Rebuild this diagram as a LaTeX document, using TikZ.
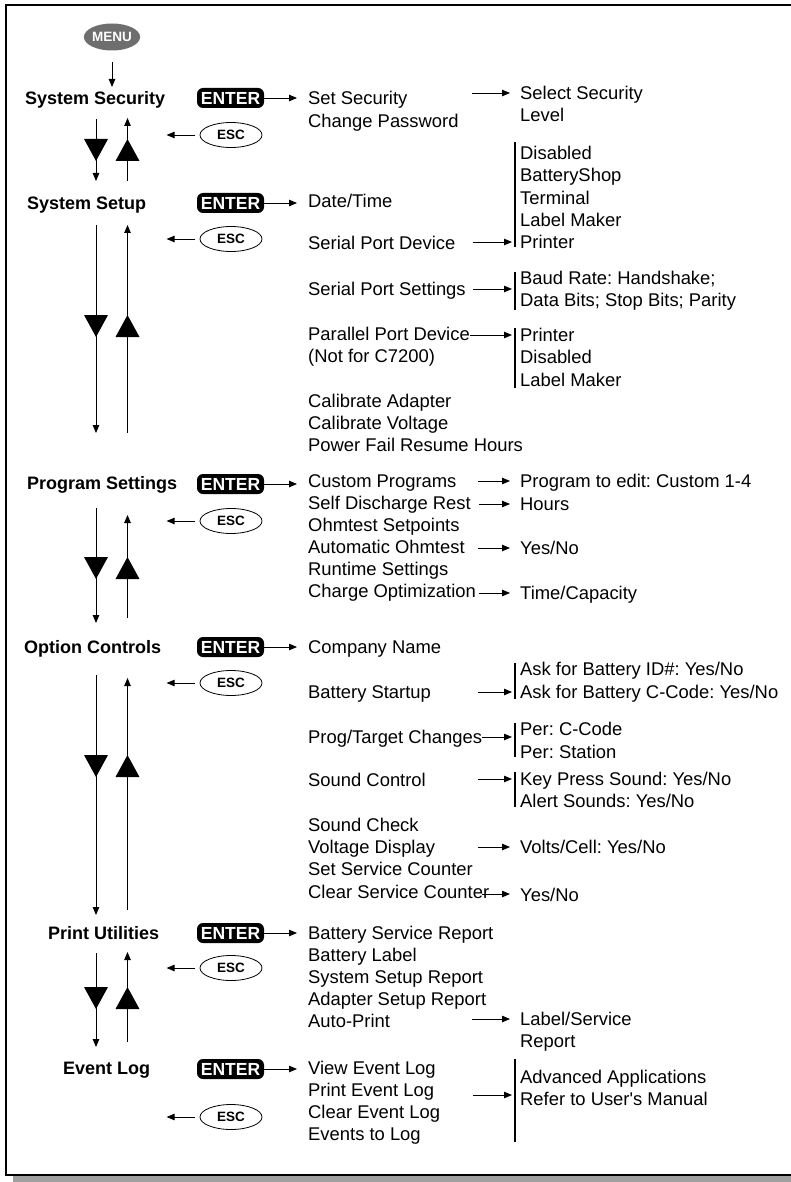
\documentclass[tikz,border=0pt]{standalone}
\usepackage{fontspec}
\setmainfont{Liberation Sans}
\newfontfamily\nolig{Liberation Sans}
\usetikzlibrary{arrows.meta,shapes.geometric}
\definecolor{menugray}{HTML}{6E6E6E}
\definecolor{shadowgray}{HTML}{A0A0A0}
\frenchspacing
\newcommand\navpair[6]{%
  \coordinate (#1dt) at (96,#2); \coordinate (#1db) at (96,#3);
  \coordinate (#1ub) at (127.5,#4); \coordinate (#1ut) at (127.5,#5);
  \draw[arr] (#1dt) -- (#1db);
  \draw[arr] (#1ub) -- (#1ut);
  \fill (84,#6) -- (108,#6) -- (96,#6+22) -- cycle;
  \fill (115.5,#6+22) -- (139.5,#6+22) -- (127.5,#6) -- cycle;
}
\begin{document}
\begin{tikzpicture}[x=1pt,y=-1pt,
  arr/.style={-{Triangle[length=8pt,width=6.5pt]},line width=0.8pt},
  txt/.style={anchor=west,inner sep=0pt,text height=13.2pt,text depth=0pt,font=\fontsize{18.4}{22}\selectfont},
  lbl/.style={anchor=west,inner sep=0pt,text height=12.9pt,text depth=0pt,font=\bfseries\fontsize{18}{22}\selectfont},
  enterbtn/.style={fill=black,rounded corners=6pt,minimum width=67pt,minimum height=20pt,inner sep=0pt,text=white,font=\bfseries\fontsize{17.5}{17.5}\selectfont},
  escbtn/.style={draw,ellipse,line width=0.8pt,minimum width=62pt,minimum height=25pt,inner sep=0pt,font=\bfseries\fontsize{13.5}{13.5}\selectfont},
  menubtn/.style={ellipse,fill=menugray,minimum width=56pt,minimum height=27pt,inner sep=0pt,text=white,font=\bfseries\fontsize{13.5}{13.5}\selectfont},
  bar/.style={line width=1.1pt}
]
\useasboundingbox (0,0) rectangle (790,1182);
% frame and shadow
\fill[shadowgray] (13,1176) rectangle (800,1182);
\draw[line width=2pt] (6,5) rectangle (800,1175);

% column coordinates
\coordinate (tipcol) at (297,0);
\coordinate (rcol) at (510,0);
\coordinate (bcol) at (512,0);

% MENU
\node[menubtn] (menu) at (112,37) {MENU};
\coordinate (menus) at (112,62);
\coordinate (menue) at (112,87);
\draw[arr] (menus) -- (menue);

% section labels
\node[lbl] (sec1) at (25,98) {System Security};
\node[lbl] (sec2) at (27,203) {System Setup};
\node[lbl] (sec3) at (27,483) {Program Settings};
\node[lbl] (sec4) at (24,647) {Option Controls};
\node[lbl] (sec5) at (48,933) {Print Utilities};
\node[lbl] (sec6) at (63,1068) {Event Log};

% ENTER buttons
\node[enterbtn] (ent1) at (230.5,98) {ENTER};
\node[enterbtn] (ent2) at (230.5,203) {ENTER};
\node[enterbtn] (ent3) at (230.5,484) {ENTER};
\node[enterbtn] (ent4) at (230.5,647) {ENTER};
\node[enterbtn] (ent5) at (230.5,933) {ENTER};
\node[enterbtn] (ent6) at (230.5,1069) {ENTER};

% ESC buttons
\node[escbtn] (esc1) at (231,135) {ESC};
\node[escbtn] (esc2) at (231,239) {ESC};
\node[escbtn] (esc3) at (231,521) {ESC};
\node[escbtn] (esc4) at (231,683) {ESC};
\node[escbtn] (esc5) at (231,968) {ESC};
\node[escbtn] (esc6) at (231,1117) {ESC};
\foreach \e in {esc1,esc2,esc3,esc4,esc5,esc6}
  \draw[arr] ([xshift=-5pt]\e.west) -- ([xshift=-33pt]\e.west);

% ENTER arrows
\foreach \e in {ent1,ent2,ent3,ent4,ent5,ent6}
  \draw[arr] (\e.east) -- (\e.east -| tipcol);

% navigation arrows
\navpair{n1}{119}{181}{181}{118}{139}
\navpair{n2}{225}{433}{433}{225}{315}
\navpair{n3}{508}{623}{618}{515}{557}
\navpair{n4}{675}{915}{910}{678}{755}
\navpair{n5}{953}{1047}{1042}{952}{987}

% middle column
\node[txt] (m1a) at (308,98) {Set Security};
\node[txt] (m1b) at (308,121) {Change Password};
\node[txt] (m2a) at (308,201) {Date/Time};
\node[txt] (m2b) at (308,243) {Serial Port Device};
\node[txt] (m2c) at (308,289) {Serial Port Settings};
\node[txt] (m2d) at (308,334) {Parallel Port Device};
\node[txt] (m2e) at (308,356) {(Not for C7200)};
\node[txt] (m2f) at (308,401) {Calibrate Adapter};
\node[txt] (m2g) at (308,423) {Calibrate Voltage};
\node[txt] (m2h) at (308,445) {Power Fail Resume Hours};
\node[txt] (m3a) at (308,481) {Custom Programs};
\node[txt] (m3b) at (308,503) {Self Discharge Rest};
\node[txt] (m3c) at (308,525) {Ohmtest Setpoints};
\node[txt] (m3d) at (308,547) {Automatic Ohmtest};
\node[txt] (m3e) at (308,569) {Runtime Settings};
\node[txt] (m3f) at (308,591) {Charge Optimization};
\node[txt] (m4a) at (308,647) {Company Name};
\node[txt] (m4b) at (308,692) {Battery Startup};
\node[txt] (m4c) at (308,737) {Prog/Target Changes};
\node[txt] (m4d) at (308,780) {Sound Control};
\node[txt] (m4e) at (308,825) {Sound Check};
\node[txt] (m4f) at (308,847) {Voltage Display};
\node[txt] (m4g) at (308,869) {Set Service Counter};
\node[txt] (m4h) at (308,892) {Clear Service Counter};
\node[txt] (m5a) at (308,933) {Battery Service Report};
\node[txt] (m5b) at (308,955) {Battery Label};
\node[txt] (m5c) at (308,977) {System Setup Report};
\node[txt] (m5d) at (308,999) {Adapter Setup Report};
\node[txt] (m5e) at (308,1021) {Auto-Print};
\node[txt] (m6a) at (308,1068) {View Event Log};
\node[txt] (m6b) at (308,1090) {Print Event Log};
\node[txt] (m6c) at (308,1112) {Clear Event Log};
\node[txt] (m6d) at (308,1134) {Events to Log};

% right column
\node[txt] (r1a) at (520,93) {Select Security};
\node[txt] (r1b) at (520,115) {Level};
\node[txt] (r2a) at (520,153) {Disabled};
\node[txt] (r2b) at (520,175) {BatteryShop};
\node[txt] (r2c) at (520,198) {Terminal};
\node[txt] (r2d) at (520,220) {Label Maker};
\node[txt] (r2e) at (520,242) {Printer};
\node[txt] (r3a) at (520,278) {Baud Rate: Handshake;};
\node[txt] (r3b) at (520,300) {Data Bits; Stop Bits; Parity};
\node[txt] (r4a) at (520,335) {Printer};
\node[txt] (r4b) at (520,357) {Disabled};
\node[txt] (r4c) at (520,380) {Label Maker};
\node[txt] (r5a) at (520,481) {Program to edit: Custom 1-4};
\node[txt] (r5b) at (520,504) {Hours};
\node[txt] (r5c) at (520,548) {Yes/No};
\node[txt] (r5d) at (520,593) {Time/Capacity};
\node[txt] (r6a) at (520,669) {Ask for Battery ID\#: Yes/No};
\node[txt] (r6b) at (520,692) {Ask for Battery C-Code: Yes/No};
\node[txt] (r7a) at (520,729) {Per: C-Code};
\node[txt] (r7b) at (520,752) {Per: Station};
\node[txt] (r8a) at (520,779) {Key Press Sound: Yes/No};
\node[txt] (r8b) at (520,801) {Alert Sounds: Yes/No};
\node[txt] (r9) at (520,847) {Volts/Cell: Yes/No};
\node[txt] (r10) at (520,895) {Yes/No};
\node[txt] (r11a) at (520,1019) {Label/Service};
\node[txt] (r11b) at (520,1041) {Report};
\node[txt] (r12a) at (520,1077) {Advanced Applications};
\node[txt] (r12b) at (520,1099) {Refer to User{\nolig '}s Manual};

% bars
\draw[bar] (515,142) -- (515,247);
\draw[bar] (515,272) -- (515,310);
\draw[bar] (515,328) -- (515,388);
\draw[bar] (515,663) -- (515,699);
\draw[bar] (515,723) -- (515,757);
\draw[bar] (515,772) -- (515,807);
\draw[bar] (515,1059) -- (515,1142);

% arrow start points
\coordinate (s1) at (472,93);
\coordinate (s2) at (473,242);
\coordinate (s3) at (473,289);
\coordinate (s4) at (470,335);
\coordinate (s5) at (478,481);
\coordinate (s6) at (479,504);
\coordinate (s7) at (478,548);
\coordinate (s8) at (479,593);
\coordinate (s9) at (478,692);
\coordinate (s10) at (482,737);
\coordinate (s11) at (478,779);
\coordinate (s12) at (478,847);
\coordinate (s13) at (482,894);
\coordinate (s14) at (472,1019);
\coordinate (s15) at (473,1095);

\draw[arr] (s1) -- (s1 -| rcol);
\draw[arr] (s2) -- (s2 -| bcol);
\draw[arr] (s3) -- (s3 -| bcol);
\draw[arr] (s4) -- (s4 -| bcol);
\draw[arr] (s5) -- (s5 -| rcol);
\draw[arr] (s6) -- (s6 -| rcol);
\draw[arr] (s7) -- (s7 -| rcol);
\draw[arr] (s8) -- (s8 -| rcol);
\draw[arr] (s9) -- (s9 -| bcol);
\draw[arr] (s10) -- (s10 -| bcol);
\draw[arr] (s11) -- (s11 -| bcol);
\draw[arr] (s12) -- (s12 -| rcol);
\draw[arr] (s13) -- (s13 -| rcol);
\draw[arr] (s14) -- (s14 -| rcol);
\draw[arr] (s15) -- (s15 -| bcol);
\end{tikzpicture}
\end{document}
